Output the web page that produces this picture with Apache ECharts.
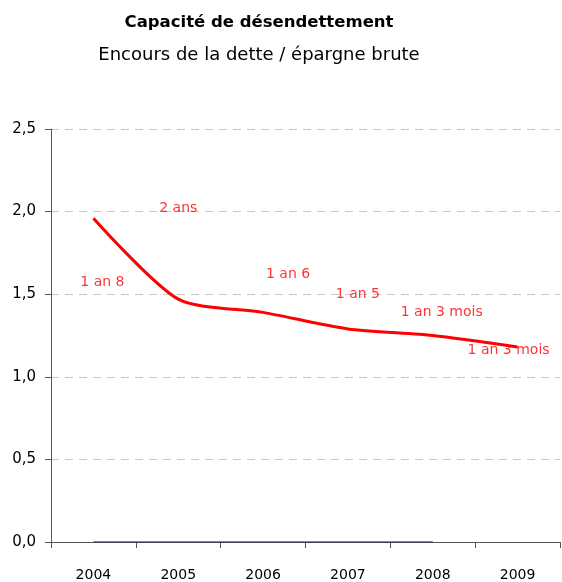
<!DOCTYPE html>
<html>
<head>
<meta charset="utf-8">
<script src="https://cdn.jsdelivr.net/npm/echarts@6/dist/echarts.min.js"></script>
<style>
  html, body { margin: 0; padding: 0; background: #fff; }
  #chart { width: 562px; height: 582px; }
</style>
</head>
<body>
<div id="chart"></div>
<script>
// données
const years = ['2004', '2005', '2006', '2007', '2008', '2009']
const capacite = [1.96, 1.47, 1.39, 1.29, 1.25, 1.18]
const zeroLine = [0, 0, 0, 0, 0, null]
const yTicks = [0, 0.5, 1.0, 1.5, 2.0, 2.5]

// annotations : texte, année, hauteur
const noteText = ['1 an 8', '2 ans', '1 an 6', '1 an 5', '1 an 3 mois', '1 an 3 mois']
const noteYear = ['2004', '2005', '2006', '2007', '2008', '2009']
const noteValue = [1.57, 2.02, 1.62, 1.50, 1.39, 1.16]

const font = 'DejaVu Sans'
const noteShift = [9, 0, 25, 10, 9, -9]

const chart = echarts.init(document.getElementById('chart'))
chart.setOption({
  animation: false,
  title: {
    text: 'Capacité de désendettement',
    subtext: 'Encours de la dette / épargne brute',
    left: 254,
    textAlign: 'center',
    top: 9,
    itemGap: 15,
    textStyle: { fontFamily: font, fontSize: 16.5, fontWeight: 'bold', color: '#000' },
    subtextStyle: { fontFamily: font, fontSize: 18, color: '#000' }
  },
  grid: { left: 51, right: 2, top: 129, bottom: 39 },
  xAxis: {
    type: 'category',
    data: years,
    boundaryGap: true,
    axisLine: { lineStyle: { color: '#555', width: 1 } },
    axisTick: { show: true, length: 6, lineStyle: { color: '#555' } },
    axisLabel: { fontFamily: font, fontSize: 14, color: '#000', margin: 26 }
  },
  yAxis: {
    type: 'value',
    min: yTicks[0],
    max: yTicks[yTicks.length - 1],
    interval: 0.5,
    axisLine: { show: true, lineStyle: { color: '#555', width: 1 } },
    axisTick: { show: true, length: 6, lineStyle: { color: '#555' } },
    axisLabel: {
      fontFamily: font, fontSize: 15, color: '#000', margin: 15,
      formatter: v => v.toFixed(1).replace('.', ',')
    },
    splitLine: { lineStyle: { color: '#c8c8c8', type: [8, 6] } }
  },
  series: [
    {
      type: 'line',
      data: zeroLine,
      symbol: 'none',
      lineStyle: { color: '#000080', width: 1.2 },
      z: 3
    },
    {
      type: 'line',
      data: capacite,
      symbol: 'none',
      smooth: 0.25,
      lineStyle: { color: '#ff0000', width: 3 },
      z: 4
    },
    {
      type: 'scatter',
      symbolSize: 0,
      data: noteText.map((t, i) => ({
        value: [noteYear[i], noteValue[i]],
        name: t,
        label: { offset: [noteShift[i], 0] }
      })),
      label: {
        show: true,
        position: 'inside',
        formatter: p => p.name,
        fontFamily: font,
        fontSize: 14,
        color: '#ff0000'
      },
      z: 5
    }
  ]
})
</script>
</body>
</html>
